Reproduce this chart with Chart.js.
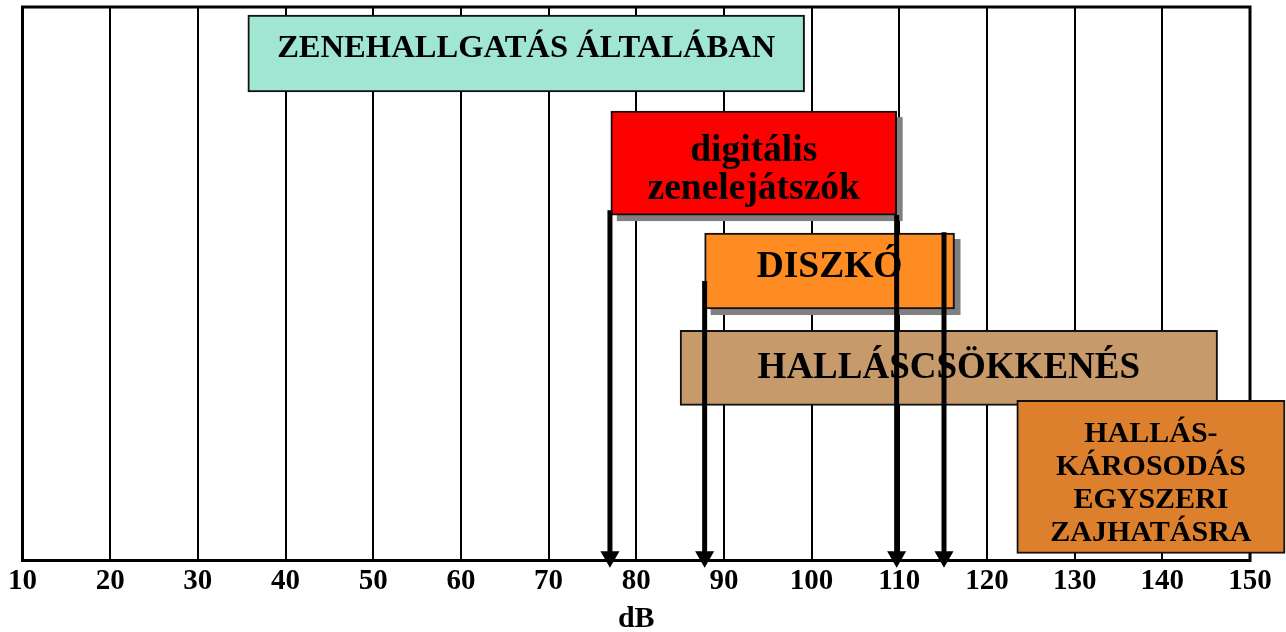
<!DOCTYPE html>
<html>
<head>
<meta charset="utf-8">
<script src="https://cdn.jsdelivr.net/npm/chart.js@4.4.1/dist/chart.umd.min.js"></script>
<style>
  html, body { margin: 0; padding: 0; background: #fff; }
  #wrap { width: 1286px; height: 632px; }
</style>
</head>
<body>
<div id="wrap"><canvas id="chart"></canvas></div>
<script>
// data (dB)
const categories = ['ZENEHALLGATÁS ÁLTALÁBAN', 'digitális\nzenelejátszók', 'DISZKÓ', 'HALLÁSCSÖKKENÉS', 'HALLÁS-\nKÁROSODÁS\nEGYSZERI\nZAJHATÁSRA'];
const rangeFrom = [35.7, 77.1, 87.8, 85, 123.4];
const rangeTo = [99.2, 109.7, 116.3, 146.3, 154];
const arrowAt = [77, 87.8, 109.7, 115.1];
const dbTicks = [10, 20, 30, 40, 50, 60, 70, 80, 90, 100, 110, 120, 130, 140, 150];

const FONT = '"Liberation Serif", "Times New Roman", serif';

// look of each box: row (hidden 0-100 axis, top down), height, colour, label font
const boxStyle = [
  { row: 8.4,  h: 77,  color: '#a1e6d3', size: 32.6, lineH: 0,  dy: -7.5 },
  { row: 28.2, h: 104, color: '#ff0000', size: 37.5, lineH: 38, dy: 5, shadow: true },
  { row: 47.7, h: 76,  color: '#ff8c22', size: 37.5, lineH: 0,  dy: -6, shadow: true },
  { row: 65.2, h: 75,  color: '#c69a6b', size: 37, lineH: 0,  dy: -2.5 },
  { row: 84.9, h: 153, color: '#dc802e', size: 30, lineH: 33, dy: 4.5 }
];
const arrowStyle = [{ top: 36.7 }, { top: 49.5 }, { top: 37.6 }, { top: 40.7 }];
const ARROW_TIP_ROW = 99.3;

const datasets = [];
categories.forEach((label, i) => {
  const s = boxStyle[i];
  datasets.push({
    type: 'bar',
    label,
    indexAxis: 'y',
    data: [{ x: [rangeFrom[i], rangeTo[i]], y: s.row }],
    backgroundColor: s.color,
    borderColor: '#111',
    borderWidth: 2,
    borderSkipped: false,
    barThickness: s.h,
    stack: 'rows',
    order: 10 - i,
    clip: false,
    boxIndex: i
  });
});
arrowAt.forEach((v, i) => {
  datasets.push({
    type: 'line',
    data: [{ x: v, y: arrowStyle[i].top }, { x: v, y: ARROW_TIP_ROW }],
    borderColor: '#000',
    borderWidth: 5,
    borderCapStyle: 'butt',
    pointRadius: [0, 11],
    pointStyle: 'triangle',
    pointRotation: 180,
    pointBackgroundColor: '#000',
    pointBorderWidth: 0,
    order: 0,
    clip: false
  });
});

const frame = {
  id: 'frame',
  beforeDatasetsDraw(chart) {
    const { ctx, chartArea: a } = chart;
    ctx.save();
    ctx.strokeStyle = '#000';
    ctx.lineWidth = 3;
    ctx.strokeRect(a.left, a.top, a.right - a.left, a.bottom - a.top);
    ctx.restore();
  }
};

const boxes = {
  id: 'boxes',
  beforeDatasetDraw(chart, args) {
    const ds = chart.data.datasets[args.index];
    if (ds.boxIndex === undefined || !boxStyle[ds.boxIndex].shadow) return;
    const el = args.meta.data[0];
    const { x, y, base, height } = el.getProps(['x', 'y', 'base', 'height'], true);
    const ctx = chart.ctx;
    ctx.save();
    ctx.fillStyle = '#808080';
    ctx.fillRect(Math.min(x, base) + 6, y - height / 2 + 6, Math.abs(x - base), height);
    ctx.restore();
  },
  afterDatasetDraw(chart, args) {
    const ds = chart.data.datasets[args.index];
    if (ds.boxIndex === undefined) return;
    const s = boxStyle[ds.boxIndex];
    const el = args.meta.data[0];
    const { x, y, base } = el.getProps(['x', 'y', 'base'], true);
    const lines = ds.label.split('\n');
    const ctx = chart.ctx;
    ctx.save();
    ctx.fillStyle = '#000';
    ctx.font = 'bold ' + s.size + 'px ' + FONT;
    ctx.textAlign = 'center';
    ctx.textBaseline = 'alphabetic';
    const cx = (x + base) / 2;
    const cy = y + s.dy;
    lines.forEach((t, k) => {
      const off = (k - (lines.length - 1) / 2) * s.lineH;
      ctx.fillText(t, cx, cy + off + s.size * 0.33);
    });
    ctx.restore();
  }
};

new Chart(document.getElementById('chart'), {
  type: 'bar',
  data: { datasets },
  options: {
    responsive: true,
    maintainAspectRatio: false,
    animation: false,
    layout: { autoPadding: false, padding: { left: 22.5, right: 36, top: 7, bottom: 0 } },
    plugins: { legend: { display: false }, tooltip: { enabled: false } },
    scales: {
      x: {
        type: 'linear',
        min: 10,
        max: 150,
        offset: false,
        afterBuildTicks: scale => { scale.ticks = dbTicks.map(v => ({ value: v })); },
        ticks: {
          color: '#000',
          font: { family: FONT, size: 29, weight: 'bold', lineHeight: 1 },
          padding: 7,
          maxRotation: 0,
          autoSkip: false
        },
        grid: { color: '#000', lineWidth: 2, drawTicks: false, offset: false },
        border: { color: '#000', width: 3 },
        title: {
          display: true,
          text: 'dB',
          color: '#000',
          font: { family: FONT, size: 30, weight: 'bold', lineHeight: 0.85 },
          padding: { top: 3, bottom: 0 }
        }
      },
      y: {
        type: 'linear',
        display: false,
        min: 0,
        max: 100,
        reverse: true,
        offset: false
      }
    }
  },
  plugins: [frame, boxes]
});
</script>
</body>
</html>
